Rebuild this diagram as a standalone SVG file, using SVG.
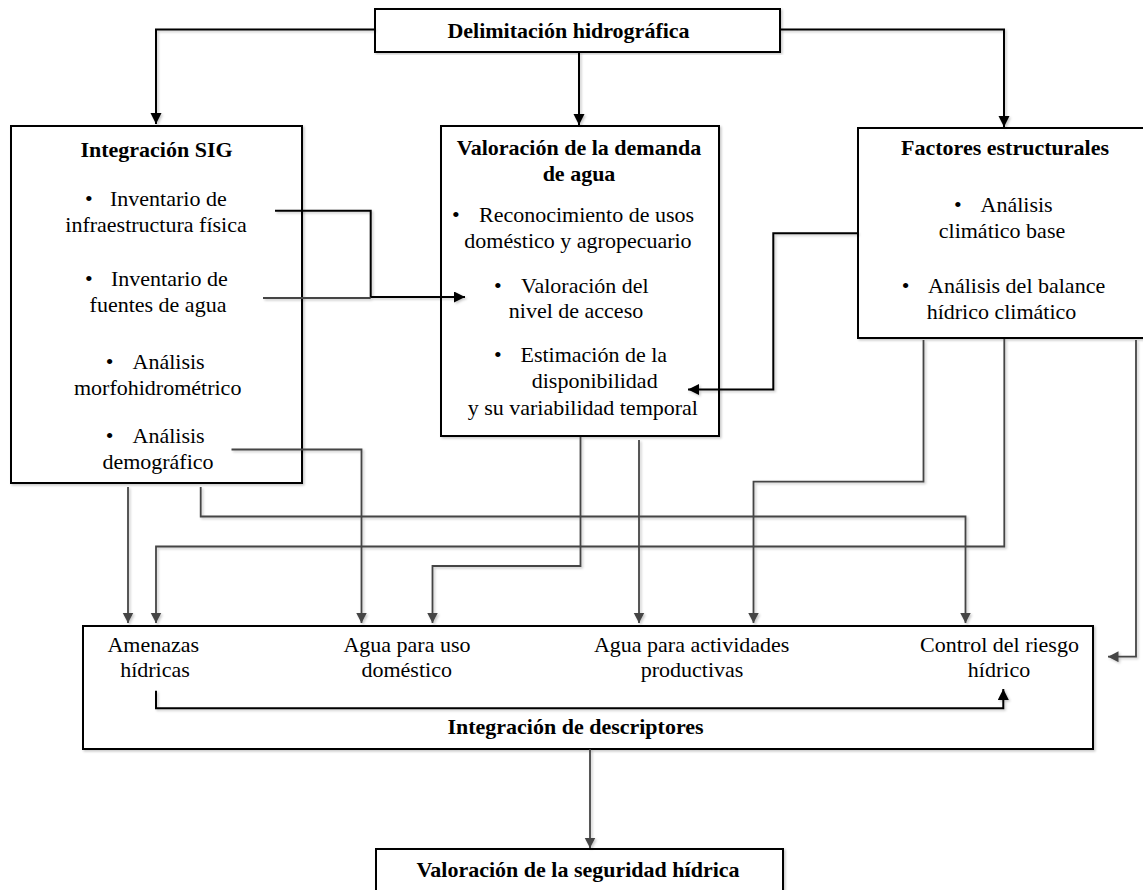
<svg xmlns="http://www.w3.org/2000/svg" width="1143" height="890" viewBox="0 0 1143 890">
  <style>
    .box { fill: #ffffff; stroke: #000000; stroke-width: 2; }
    .t { font-family: "Liberation Serif", "Times New Roman", serif; font-size: 22px; fill: #000000; }
    .b { font-weight: bold; }
    .c { text-anchor: middle; }
    .dark { fill: none; stroke: #000000; stroke-width: 2; }
    .grey { fill: none; stroke: #454545; stroke-width: 1.8; }
  </style>
  <defs>
    <filter id="shade" x="-5%" y="-5%" width="110%" height="110%">
      <feDropShadow dx="1.5" dy="1.5" stdDeviation="1.2" flood-color="#000000" flood-opacity="0.22"/>
    </filter>
    <marker id="headDark" markerUnits="userSpaceOnUse" markerWidth="12" markerHeight="12" refX="11" refY="5.5" orient="auto">
      <path d="M0,0 L11,5.5 L0,11 z" fill="#000000"/>
    </marker>
    <marker id="headGrey" markerUnits="userSpaceOnUse" markerWidth="12" markerHeight="12" refX="10.5" refY="5.5" orient="auto">
      <path d="M0,0 L10.5,5.5 L0,11 z" fill="#454545"/>
    </marker>
  </defs>

  <rect width="1143" height="890" fill="#ffffff"/>

  <!-- top node -->
  <g id="delimitacion">
    <rect class="box" x="375" y="9" width="405" height="43" filter="url(#shade)"/>
    <text class="t b c" x="568.5" y="38">Delimitación hidrográfica</text>
  </g>

  <!-- GIS integration -->
  <g id="integracion-sig">
    <rect class="box" x="11" y="126" width="291" height="357" filter="url(#shade)"/>
    <text class="t b c" x="156.5" y="156.7">Integración SIG</text>
    <text class="t" x="85" y="206">•<tspan x="110">Inventario de</tspan></text>
    <text class="t c" x="156" y="231.7">infraestructura física</text>
    <text class="t" x="85" y="286">•<tspan x="111">Inventario de</tspan></text>
    <text class="t c" x="158" y="311.5">fuentes de agua</text>
    <text class="t" x="105.7" y="369">•<tspan x="132.5">Análisis</tspan></text>
    <text class="t c" x="157.7" y="395">morfohidrométrico</text>
    <text class="t" x="105.7" y="443">•<tspan x="132.5">Análisis</tspan></text>
    <text class="t c" x="158" y="469">demográfico</text>
  </g>

  <!-- water demand -->
  <g id="demanda-agua">
    <rect class="box" x="441" y="126" width="278" height="310" filter="url(#shade)"/>
    <text class="t b c" x="579" y="155">Valoración de la demanda</text>
    <text class="t b c" x="579" y="181">de agua</text>
    <text class="t" x="452" y="221.7">•<tspan x="479">Reconocimiento de usos</tspan></text>
    <text class="t c" x="578" y="248">doméstico y agropecuario</text>
    <text class="t" x="494" y="293">•<tspan x="521">Valoración del</tspan></text>
    <text class="t c" x="576" y="318">nivel de acceso</text>
    <text class="t" x="494" y="361.7">•<tspan x="520.5">Estimación de la</tspan></text>
    <text class="t c" x="594.7" y="388">disponibilidad</text>
    <text class="t c" x="582.8" y="415">y su variabilidad temporal</text>
  </g>

  <!-- structural factors -->
  <g id="factores">
    <rect class="box" x="858" y="128" width="290" height="210" filter="url(#shade)"/>
    <text class="t b c" x="1005" y="155">Factores estructurales</text>
    <text class="t" x="954" y="211.7">•<tspan x="980.5">Análisis</tspan></text>
    <text class="t c" x="1002" y="238.3">climático base</text>
    <text class="t" x="901.7" y="293.3">•<tspan x="928">Análisis del balance</tspan></text>
    <text class="t c" x="1001.5" y="319.3">hídrico climático</text>
  </g>

  <!-- descriptor integration -->
  <g id="descriptores">
    <rect class="box" x="83" y="626" width="1010" height="123" filter="url(#shade)"/>
    <text class="t c" x="153.3" y="651.7">Amenazas</text>
    <text class="t c" x="155" y="677.3">hídricas</text>
    <text class="t c" x="407" y="651.7">Agua para uso</text>
    <text class="t c" x="406.7" y="677.3">doméstico</text>
    <text class="t c" x="691.7" y="651.7">Agua para actividades</text>
    <text class="t c" x="692" y="677.3">productivas</text>
    <text class="t c" x="999.5" y="651.7">Control del riesgo</text>
    <text class="t c" x="999" y="677.3">hídrico</text>
    <text class="t b c" x="575.5" y="734">Integración de descriptores</text>
  </g>

  <!-- water security -->
  <g id="seguridad">
    <rect class="box" x="376" y="849" width="407" height="60" filter="url(#shade)"/>
    <text class="t b c" x="578" y="876.5">Valoración de la seguridad hídrica</text>
  </g>

  <!-- connectors, drawn above the boxes so they run into them -->
  <g id="connectors" filter="url(#shade)">
    <path class="dark" d="M375,29.5 H156 V124" marker-end="url(#headDark)"/>
    <path class="dark" d="M579,52 V125" marker-end="url(#headDark)"/>
    <path class="dark" d="M780,29.5 H1004 V127" marker-end="url(#headDark)"/>
    <path class="dark" d="M275,210.7 H370.7 V297 H465" marker-end="url(#headDark)"/>
    <path class="grey" d="M263,298 H370.7"/>
    <path class="dark" d="M858,233.3 H773.3 V389.5 H688" marker-end="url(#headDark)"/>

    <path class="grey" d="M128,487 V623" marker-end="url(#headGrey)"/>
    <path class="grey" d="M200.7,487 V516.5 H965.5 V623" marker-end="url(#headGrey)"/>
    <path class="grey" d="M1004.3,339 V546.5 H156 V623" marker-end="url(#headGrey)"/>
    <path class="grey" d="M231.5,449.5 H361.5 V623" marker-end="url(#headGrey)"/>
    <path class="grey" d="M580.5,437 V566 H432.5 V623" marker-end="url(#headGrey)"/>
    <path class="grey" d="M639,440 V623" marker-end="url(#headGrey)"/>
    <path class="grey" d="M923.5,340 V481.7 H753.5 V623" marker-end="url(#headGrey)"/>
    <path class="grey" d="M1136,340 V656.7 H1108" marker-end="url(#headGrey)"/>
    <path class="grey" d="M590,749 V848" marker-end="url(#headGrey)"/>
    <path class="dark" d="M156,690.7 V708.3 H1003.3 V689" marker-end="url(#headDark)"/>
  </g>
</svg>
